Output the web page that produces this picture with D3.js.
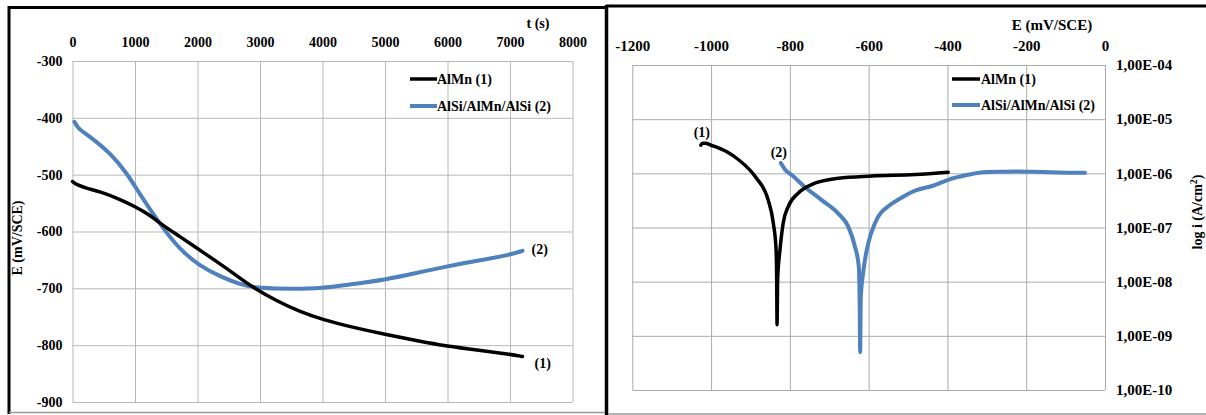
<!DOCTYPE html>
<html>
<head>
<meta charset="utf-8">
<script src="https://cdn.jsdelivr.net/npm/d3@7"></script>
<style>
  body { margin: 0; background: #fff; }
  svg { display: block; }
  text { font-family: "Times New Roman", "Liberation Serif", Tinos, "DejaVu Serif", serif; font-weight: bold; fill: #000; }
</style>
</head>
<body>
<div id="chart"></div>
<script>
// Left chart: open circuit potential vs time
var timeTicks = [0, 1000, 2000, 3000, 4000, 5000, 6000, 7000, 8000];
var potTicks = [-300, -400, -500, -600, -700, -800, -900];

var alMnTime = [0, 70, 230, 440, 710, 1000, 1240, 1430, 1720, 2000, 2310, 2570, 2890, 3300, 3640, 4000, 4500, 5000, 5500, 6000, 6500, 7000, 7200];
var alMnE = [-512, -518, -524, -530, -541, -556, -571, -588, -609, -630, -653, -673, -699, -724, -741, -755, -769, -781, -792, -802, -809, -816, -820];

var alSiTime = [30, 90, 170, 350, 600, 870, 1080, 1430, 1720, 2040, 2360, 2700, 3000, 3500, 4000, 4440, 5000, 5500, 6000, 6500, 7000, 7200];
var alSiE = [-407, -418, -425, -439, -462, -497, -535, -592, -632, -661, -679, -694, -700, -701, -700, -693, -685, -673, -661, -651, -641, -634];

// Right chart: polarisation curves
var polTicks = [-1200, -1000, -800, -600, -400, -200, 0];
var currentTicks = [1e-4, 1e-5, 1e-6, 1e-7, 1e-8, 1e-9, 1e-10];
var currentLabels = ["1,00E-04", "1,00E-05", "1,00E-06", "1,00E-07", "1,00E-08", "1,00E-09", "1,00E-10"];

var polAlMnE = [-1026, -1022, -1015, -1000, -960, -931, -888, -855, -842, -835, -833.5, -832.5, -831, -825, -817, -804, -779, -745, -677, -592, -482, -398];
var polAlMnI = [3.3e-6, 3.6e-6, 3.6e-6, 3.3e-6, 2.5e-6, 1.8e-6, 8.7e-7, 3.2e-7, 1.2e-7, 3.9e-8, 1.1e-8, 1.6e-9, 1.1e-8, 3.9e-8, 1.2e-7, 2.45e-7, 4.3e-7, 6.2e-7, 8.1e-7, 8.9e-7, 9.5e-7, 1.05e-6];

var polAlSiE = [-823, -812, -795, -762, -719, -677, -652, -635, -625, -623, -621.5, -620, -614, -601, -584, -546, -521, -482, -437, -398, -351, -309, -267, -224, -182, -140, -95, -51];
var polAlSiI = [1.55e-6, 1.17e-6, 9.3e-7, 5.6e-7, 3.2e-7, 1.8e-7, 1.05e-7, 4.5e-8, 1.9e-8, 5e-9, 5e-10, 5e-9, 1.45e-8, 5.1e-8, 1.2e-7, 2.6e-7, 3.4e-7, 4.8e-7, 5.9e-7, 7.6e-7, 9.3e-7, 1.05e-6, 1.07e-6, 1.08e-6, 1.07e-6, 1.05e-6, 1.03e-6, 1.02e-6];

var seriesNames = ["AlMn (1)", "AlSi/AlMn/AlSi (2)"];

var config = {
    colors: { alMn: '#000000', alSi: '#4f81bd', grid: '#b8b8b8' },
    font: '"Times New Roman", "Liberation Serif", Tinos, "DejaVu Serif", serif',
    width: 1206,
    height: 415
};

function zip(xs, ys) {
    return xs.map(function (x, i) { return [x, ys[i]]; });
}

// plain hyphen minus like the original, not the unicode one d3 uses
function plain(d) { return String(d); }

function styleAxis(g, gridColor, size) {
    g.select('.domain').remove();
    g.attr('font-family', null);
    g.selectAll('line').attr('stroke', gridColor);
    g.selectAll('text').style('font-size', size).style('font-family', config.font).style('font-weight', 'bold');
}

var svg = d3.select('#chart').append('svg')
    .attr('width', config.width)
    .attr('height', config.height);

svg.append('rect').attr('width', config.width).attr('height', config.height).attr('fill', '#fff');

// ---------- left chart ----------
var x1 = d3.scaleLinear().domain([0, 8000]).range([72.5, 572.5]);
var y1 = d3.scaleLinear().domain([-300, -900]).range([61, 402]);

var left = svg.append('g');

var gx1 = left.append('g')
    .attr('transform', 'translate(0,' + y1(-300) + ')')
    .call(d3.axisTop(x1).tickValues(timeTicks).tickSize(-(y1(-900) - y1(-300))).tickPadding(14).tickFormat(plain));
var gy1 = left.append('g')
    .attr('transform', 'translate(' + x1(0) + ',0)')
    .call(d3.axisLeft(y1).tickValues(potTicks).tickSize(-(x1(8000) - x1(0))).tickPadding(10).tickFormat(plain));
styleAxis(gx1, config.colors.grid, '14px');
styleAxis(gy1, config.colors.grid, '14px');

var line1 = d3.line().x(function (d) { return x1(d[0]); }).y(function (d) { return y1(d[1]); }).curve(d3.curveBasis);

left.append('path').datum(zip(alSiTime, alSiE))
    .attr('d', line1).attr('fill', 'none').attr('stroke', config.colors.alSi)
    .attr('stroke-width', 4).attr('stroke-linecap', 'round');
left.append('path').datum(zip(alMnTime, alMnE))
    .attr('d', line1).attr('fill', 'none').attr('stroke', config.colors.alMn)
    .attr('stroke-width', 3.5).attr('stroke-linecap', 'round');

left.append('text').attr('x', x1(alMnTime[alMnTime.length - 1]) + 12).attr('y', y1(alMnE[alMnE.length - 1]) + 11)
    .style('font-size', '14px').text('(1)');
left.append('text').attr('x', x1(alSiTime[alSiTime.length - 1]) + 9).attr('y', y1(alSiE[alSiE.length - 1]) + 3)
    .style('font-size', '14px').text('(2)');

left.append('text').attr('x', 538).attr('y', 28).attr('text-anchor', 'middle')
    .style('font-size', '14px').text('t (s)');
left.append('text').attr('transform', 'translate(22,238) rotate(-90)').attr('text-anchor', 'middle')
    .style('font-size', '14px').text('E (mV/SCE)');

// legend
var leg1 = left.append('g').attr('transform', 'translate(410,79)');
[config.colors.alMn, config.colors.alSi].forEach(function (c, i) {
    leg1.append('line').attr('x1', 0).attr('x2', 27).attr('y1', i * 27).attr('y2', i * 27)
        .attr('stroke', c).attr('stroke-width', i ? 4 : 3.5);
    leg1.append('text').attr('x', 27).attr('y', i * 27 + 5).style('font-size', '14px').text(seriesNames[i]);
});

// ---------- right chart ----------
var x2 = d3.scaleLinear().domain([-1200, 0]).range([632.3, 1105]);
var y2 = d3.scaleLog().domain([1e-4, 1e-10]).range([65, 390]);

var right = svg.append('g');

var gx2 = right.append('g')
    .attr('transform', 'translate(0,' + y2(1e-4) + ')')
    .call(d3.axisTop(x2).tickValues(polTicks).tickSize(-(y2(1e-10) - y2(1e-4))).tickPadding(14).tickFormat(plain));
var gy2 = right.append('g')
    .attr('transform', 'translate(' + x2(0) + ',0)')
    .call(d3.axisRight(y2).tickValues(currentTicks).tickSize(-(x2(0) - x2(-1200))).tickPadding(11)
        .tickFormat(function (d, i) { return currentLabels[i]; }));
styleAxis(gx2, '#ababab', '15px');
styleAxis(gy2, '#ababab', '15px');

var line2 = d3.line().x(function (d) { return x2(d[0]); }).y(function (d) { return y2(d[1]); }).curve(d3.curveMonotoneX);

right.append('path').datum(zip(polAlSiE, polAlSiI))
    .attr('d', line2).attr('fill', 'none').attr('stroke', config.colors.alSi)
    .attr('stroke-width', 4).attr('stroke-linecap', 'round').attr('stroke-linejoin', 'round');
right.append('path').datum(zip(polAlMnE, polAlMnI))
    .attr('d', line2).attr('fill', 'none').attr('stroke', config.colors.alMn)
    .attr('stroke-width', 3.5).attr('stroke-linecap', 'round').attr('stroke-linejoin', 'round');

right.append('text').attr('x', x2(polAlMnE[0]) + 1).attr('y', y2(polAlMnI[0]) - 8).attr('text-anchor', 'middle')
    .style('font-size', '14px').text('(1)');
right.append('text').attr('x', x2(polAlSiE[0]) - 2).attr('y', y2(polAlSiI[0]) - 6).attr('text-anchor', 'middle')
    .style('font-size', '14px').text('(2)');

right.append('text').attr('x', 1052).attr('y', 30).attr('text-anchor', 'middle')
    .style('font-size', '15px').text('E (mV/SCE)');
var yt = right.append('text').attr('transform', 'translate(1202,212) rotate(-90)').attr('text-anchor', 'middle')
    .style('font-size', '14px');
yt.append('tspan').text('log i (A/cm');
yt.append('tspan').attr('dy', -5).style('font-size', '10px').text('2');
yt.append('tspan').attr('dy', 5).text(')');

var leg2 = right.append('g').attr('transform', 'translate(952,79)');
[config.colors.alMn, config.colors.alSi].forEach(function (c, i) {
    leg2.append('line').attr('x1', 0).attr('x2', 28).attr('y1', i * 26).attr('y2', i * 26)
        .attr('stroke', c).attr('stroke-width', i ? 4 : 3.5);
    leg2.append('text').attr('x', 29).attr('y', i * 26 + 5).style('font-size', '14px').text(seriesNames[i]);
});

// ---------- panel frames ----------
var frame = svg.append('g');
frame.append('line').attr('x1', 8).attr('x2', 608).attr('y1', 7.5).attr('y2', 7.5).attr('stroke', '#000').attr('stroke-width', 3);
frame.append('line').attr('x1', 606).attr('x2', 1206).attr('y1', 6).attr('y2', 6).attr('stroke', '#000').attr('stroke-width', 3);
frame.append('line').attr('x1', 9).attr('x2', 9).attr('y1', 6).attr('y2', 414).attr('stroke', '#000').attr('stroke-width', 3);
frame.append('line').attr('x1', 606.5).attr('x2', 606.5).attr('y1', 5).attr('y2', 415).attr('stroke', '#000').attr('stroke-width', 3.5);
frame.append('line').attr('x1', 9).attr('x2', 605).attr('y1', 412.5).attr('y2', 412.5).attr('stroke', '#999').attr('stroke-width', 1.5);
frame.append('line').attr('x1', 608).attr('x2', 1206).attr('y1', 414).attr('y2', 414).attr('stroke', '#999').attr('stroke-width', 1.5);
</script>
</body>
</html>
